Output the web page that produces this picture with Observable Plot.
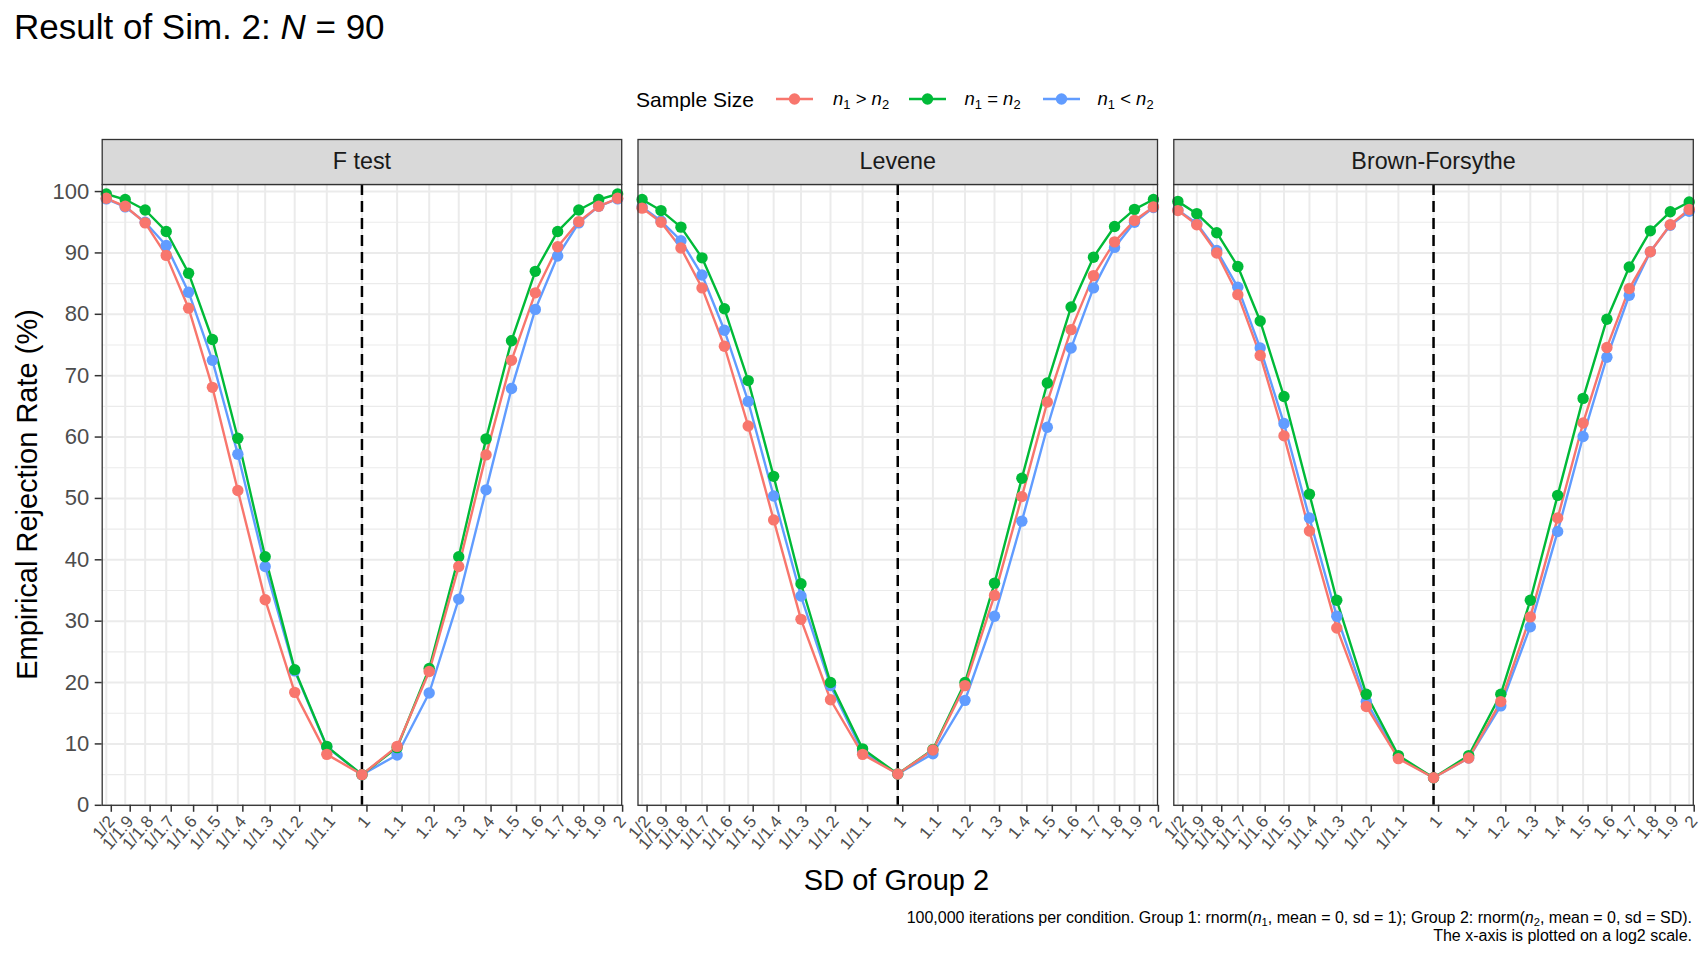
<!DOCTYPE html>
<html>
<head>
<meta charset="utf-8">
<script src="https://cdn.jsdelivr.net/npm/d3@7"></script>
<script src="https://cdn.jsdelivr.net/npm/@observablehq/plot@0.6"></script>
<style>
  html, body { margin: 0; padding: 0; background: #fff; }
  #root { position: relative; width: 1708px; height: 960px; overflow: hidden; background: #fff;
          font-family: "Liberation Sans", Arial, sans-serif; color: #000; }
  .abs { position: absolute; white-space: nowrap; }
  #title { left: 14px; top: 8.7px; font-size: 35px; line-height: 35px; }
  #legend-title { left: 636px; top: 88.8px; font-size: 21px; line-height: 21px; }
  .leg-label { font-size: 18.5px; line-height: 18.5px; top: 90px; }
  .leg-key { top: 92.3px; }
  sub { font-size: 70%; vertical-align: -0.3em; line-height: 0; }
  #ylabel { left: -273px; top: 479.5px; width: 600px; text-align: center; font-size: 29px; line-height: 29px;
            transform: rotate(-90deg); transform-origin: 50% 50%; }
  #xlabel { left: 596.5px; width: 600px; top: 865.5px; text-align: center; font-size: 29px; line-height: 29px; }
  #caption { right: 16px; top: 909px; text-align: right; font-size: 16px; line-height: 17.5px; }
  #chart { position: absolute; left: 0; top: 130px; }
</style>
</head>
<body>
<div id="root">
  <div id="chart"></div>
  <div id="title" class="abs">Result of Sim. 2: <i>N</i> = 90</div>
  <div id="legend-title" class="abs">Sample Size</div>
  <div id="ylabel" class="abs">Empirical Rejection Rate (%)</div>
  <div id="xlabel" class="abs">SD of Group 2</div>
  <div id="caption" class="abs">100,000 iterations per condition. Group 1: rnorm(<i>n</i><sub>1</sub>, mean = 0, sd = 1); Group 2: rnorm(<i>n</i><sub>2</sub>, mean = 0, sd = SD).<br>The x-axis is plotted on a log2 scale.</div>
</div>
<script>
// ---------------- data ----------------
const tests = ["F test", "Levene", "Brown-Forsythe"];
const groups = ["n1 > n2", "n1 = n2", "n1 < n2"];
const groupLabelsHtml = ["<i>n</i><sub>1</sub> &gt; <i>n</i><sub>2</sub>",
                         "<i>n</i><sub>1</sub> = <i>n</i><sub>2</sub>",
                         "<i>n</i><sub>1</sub> &lt; <i>n</i><sub>2</sub>"];
const groupColors = ["#F8766D", "#00BA38", "#619CFF"];

const sdLabels = ["1/2", "1/1.9", "1/1.8", "1/1.7", "1/1.6", "1/1.5", "1/1.4", "1/1.3", "1/1.2", "1/1.1",
                  "1", "1.1", "1.2", "1.3", "1.4", "1.5", "1.6", "1.7", "1.8", "1.9", "2"];
const sdValues = [1/2, 1/1.9, 1/1.8, 1/1.7, 1/1.6, 1/1.5, 1/1.4, 1/1.3, 1/1.2, 1/1.1,
                  1, 1.1, 1.2, 1.3, 1.4, 1.5, 1.6, 1.7, 1.8, 1.9, 2];

// Empirical rejection rate (%), one value per SD level
const fTestGt = [98.9, 97.6, 94.9, 89.6, 81.0, 68.1, 51.3, 33.5, 18.4, 8.3, 5.0, 9.6, 21.8, 38.9, 57.1, 72.5, 83.5, 91.0, 95.1, 97.6, 98.9];
const fTestEq = [99.6, 98.7, 97.0, 93.5, 86.7, 75.9, 59.8, 40.5, 22.1, 9.6, 5.0, 9.4, 22.3, 40.5, 59.7, 75.7, 87.0, 93.5, 97.0, 98.7, 99.6];
const fTestLt = [98.8, 97.5, 95.0, 91.2, 83.6, 72.5, 57.2, 38.9, 21.9, 9.5, 5.0, 8.2, 18.3, 33.6, 51.4, 67.9, 80.8, 89.5, 94.9, 97.6, 98.8];

const leveneGt = [97.3, 95.0, 90.8, 84.3, 74.8, 61.8, 46.5, 30.3, 17.2, 8.3, 5.1, 9.0, 19.5, 34.2, 50.3, 65.7, 77.5, 86.3, 91.8, 95.3, 97.5];
const leveneEq = [98.7, 96.9, 94.2, 89.2, 80.9, 69.2, 53.6, 36.1, 20.0, 9.2, 5.1, 9.1, 20.0, 36.2, 53.3, 68.8, 81.2, 89.3, 94.3, 97.1, 98.7];
const leveneLt = [97.5, 95.2, 92.0, 86.4, 77.4, 65.8, 50.4, 34.1, 19.5, 8.7, 5.1, 8.4, 17.1, 30.8, 46.3, 61.6, 74.5, 84.3, 90.9, 95.0, 97.4];

const bfGt = [96.9, 94.6, 90.0, 83.2, 73.3, 60.2, 44.7, 28.9, 16.1, 7.6, 4.5, 7.7, 16.9, 30.7, 46.8, 62.3, 74.6, 84.2, 90.2, 94.6, 97.1];
const bfEq = [98.4, 96.4, 93.3, 87.8, 78.9, 66.6, 50.7, 33.4, 18.1, 8.1, 4.5, 8.1, 18.1, 33.4, 50.5, 66.3, 79.2, 87.7, 93.6, 96.7, 98.3];
const bfLt = [97.0, 94.8, 90.4, 84.4, 74.5, 62.2, 46.8, 30.8, 16.9, 7.8, 4.5, 7.7, 16.2, 29.1, 44.6, 60.1, 73.0, 83.1, 90.2, 94.5, 96.8];

const yTicks = [0, 10, 20, 30, 40, 50, 60, 70, 80, 90, 100];
const yMinorTicks = [5, 15, 25, 35, 45, 55, 65, 75, 85, 95];
const equalSd = [1];

// ---------------- table ----------------
const seriesByTest = {
  "F test": [fTestGt, fTestEq, fTestLt],
  "Levene": [leveneGt, leveneEq, leveneLt],
  "Brown-Forsythe": [bfGt, bfEq, bfLt]
};
const drawOrder = [2, 1, 0]; // n1 < n2 underneath, n1 > n2 on top
const rows = [];
for (const gi of drawOrder) {
  for (const t of tests) {
    seriesByTest[t][gi].forEach((v, i) => rows.push({test: t, group: groups[gi], sd: sdValues[i], rate: v}));
  }
}

// ---------------- layout ----------------
const W = 1708, H = 830;
const mTop = 54, mBottom = 155.2, mLeft = 101.7, mRight = 15.2;
const panelH = H - mTop - mBottom;
const stripH = 45;
const grid = {stroke: "#ebebeb", strokeOpacity: 1};

const plot = Plot.plot({
  width: W,
  height: H,
  marginTop: mTop,
  marginBottom: mBottom,
  marginLeft: mLeft,
  marginRight: mRight,
  style: {fontFamily: "'Liberation Sans', Arial, sans-serif", background: "transparent", overflow: "visible"},
  fx: {domain: tests, paddingInner: 0.0304, paddingOuter: 0, round: false, axis: null, label: null},
  x: {type: "log", base: 2, domain: [2 ** -1.016, 2 ** 1.016], label: null},
  y: {domain: [0, 101.15], label: null},
  color: {domain: groups, range: groupColors},
  marks: [
    Plot.gridY(yMinorTicks, {...grid, strokeWidth: 1.2}),
    Plot.gridY(yTicks, {...grid, strokeWidth: 2}),
    Plot.gridX(sdValues, {...grid, strokeWidth: 2}),
    Plot.ruleX(equalSd, {stroke: "#000", strokeWidth: 2.5, strokeDasharray: "11,6"}),
    Plot.line(rows, {fx: "test", x: "sd", y: "rate", z: "group", stroke: "group", strokeWidth: 2.4}),
    Plot.dot(rows, {fx: "test", x: "sd", y: "rate", fill: "group", r: 5.7}),
    Plot.frame({stroke: "#333", strokeWidth: 1.3}),
    Plot.frame({fill: "#d9d9d9", stroke: "#333", strokeWidth: 1.3, insetTop: -stripH, insetBottom: panelH}),
    Plot.text(tests, {fx: d => d, text: d => d, frameAnchor: "top", lineAnchor: "middle", dy: -stripH / 2, fontSize: 23.3, fill: "#1a1a1a"}),
    Plot.axisY({ticks: yTicks, tickSize: 7, tickPadding: 6, fontSize: 22, stroke: "#333", strokeWidth: 1.5, fill: "#4d4d4d", label: null, facetAnchor: "left"}),
    Plot.axisX({ticks: sdValues, tickFormat: d => sdLabels[sdValues.indexOf(d)], tickRotate: -50, tickSize: 7, tickPadding: 6, dx: 5,
                fontSize: 17, stroke: "#333", strokeWidth: 1.5, fill: "#4d4d4d", label: null})
  ]
});
document.getElementById("chart").appendChild(plot);

// ---------------- legend ----------------
const root = document.getElementById("root");
const keyX = [775.7, 909.3, 1043.3];
const labelX = [833, 964.5, 1097.5];
groups.forEach((g, i) => {
  const key = document.createElement("div");
  key.className = "abs leg-key";
  key.style.left = keyX[i] + "px";
  key.innerHTML = `<svg width="37" height="14" style="display:block"><line x1="0" x2="37" y1="7" y2="7" stroke="${groupColors[i]}" stroke-width="2.4"/><circle cx="18.5" cy="7" r="5.7" fill="${groupColors[i]}"/></svg>`;
  root.appendChild(key);
  const lab = document.createElement("div");
  lab.className = "abs leg-label";
  lab.style.left = labelX[i] + "px";
  lab.innerHTML = groupLabelsHtml[i];
  root.appendChild(lab);
});
</script>
</body>
</html>
